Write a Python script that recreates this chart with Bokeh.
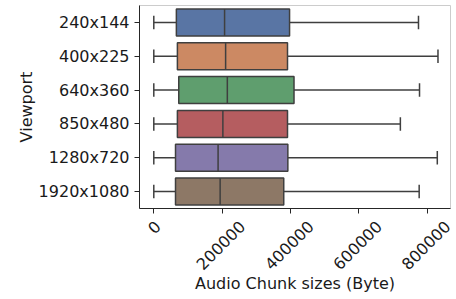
import math
from bokeh.plotting import figure
from bokeh.models import Range1d, FixedTicker, LinearAxis
from bokeh.embed import file_html
from bokeh.resources import INLINE

viewports = ["240x144", "400x225", "640x360", "850x480", "1280x720", "1920x1080"]
lower_whisker = [0, 0, 0, 0, 0, 0]
q1 = [66000, 69000, 73000, 69000, 63500, 63500]
median = [207000, 210000, 215000, 202000, 188000, 194000]
q3 = [397000, 391000, 410000, 391000, 392000, 380000]
upper_whisker = [774000, 831000, 777000, 721000, 829000, 776000]
colors = ["#5975a4", "#cc8963", "#5f9e6e", "#b55d60", "#857aab", "#8d7866"]
x_ticks = [0, 200000, 400000, 600000, 800000]
x_tick_labels = ["0", "200000", "400000", "600000", "800000"]

ypos = list(range(len(viewports)))
line_col = "#3f3f3f"
font = "DejaVu Sans"
txt_col = "#1a1a1a"

x0, x1 = -41800, 867600
frame_w = 311
p = figure(frame_width=frame_w, frame_height=203, output_backend="svg", toolbar_location=None,
           x_range=Range1d(x0, x1), y_range=Range1d(5.5, -0.5),
           min_border_left=139, min_border_right=5, min_border_top=5, min_border_bottom=0)
p.xgrid.visible = False
p.ygrid.visible = False
p.outline_line_color = "#cccccc"
p.outline_line_width = 1

box_h = 0.8
cap_h = 0.4

# whiskers
p.segment(x0=lower_whisker, x1=q1, y0=ypos, y1=ypos, line_color=line_col, line_width=1.5)
p.segment(x0=q3, x1=upper_whisker, y0=ypos, y1=ypos, line_color=line_col, line_width=1.5)
# caps
p.segment(x0=lower_whisker, x1=lower_whisker, y0=[y - cap_h / 2 for y in ypos],
          y1=[y + cap_h / 2 for y in ypos], line_color=line_col, line_width=1.5)
p.segment(x0=upper_whisker, x1=upper_whisker, y0=[y - cap_h / 2 for y in ypos],
          y1=[y + cap_h / 2 for y in ypos], line_color=line_col, line_width=1.5)
# boxes
p.hbar(y=ypos, left=q1, right=q3, height=box_h, fill_color=colors,
       line_color=line_col, line_width=1.5)
# medians
p.segment(x0=median, x1=median, y0=[y - box_h / 2 for y in ypos],
          y1=[y + box_h / 2 for y in ypos], line_color=line_col, line_width=1.5)

p.yaxis.ticker = FixedTicker(ticks=ypos)
p.yaxis.major_label_overrides = {i: v for i, v in enumerate(viewports)}
p.yaxis.axis_label = "Viewport"
p.yaxis.axis_label_standoff = 0

# main x axis: tick marks only
p.xaxis.ticker = FixedTicker(ticks=x_ticks)
p.xaxis.major_label_overrides = {t: "" for t in x_ticks}
p.xaxis.major_label_standoff = 0

for ax in (p.xaxis[0], p.yaxis[0]):
    ax.major_label_text_font = font
    ax.major_label_text_font_size = "16px"
    ax.major_label_text_color = txt_col
    ax.axis_label_text_font = font
    ax.axis_label_text_font_size = "16px"
    ax.axis_label_text_font_style = "normal"
    ax.axis_label_text_color = txt_col
    ax.axis_line_color = "#262626"
    ax.major_tick_line_color = "#262626"
    ax.major_tick_out = 5
    ax.major_tick_in = 0
    ax.minor_tick_line_color = None

# label axis: same scale shifted a few pixels so rotated labels sit centred on ticks
px = (x1 - x0) / frame_w
shift_long = 20 * px
shift_short = 4 * px
p.extra_x_ranges = {"lbl": Range1d(x0 - shift_long, x1 - shift_long)}
lbl_pos = [t if len(s) > 1 else t - (shift_long - shift_short) for t, s in zip(x_ticks, x_tick_labels)]
lab_axis = LinearAxis(x_range_name="lbl", ticker=FixedTicker(ticks=lbl_pos),
                      major_label_overrides={v: s for v, s in zip(lbl_pos, x_tick_labels)},
                      major_label_orientation=math.pi / 4,
                      axis_label="Audio Chunk sizes (Byte)")
lab_axis.axis_line_color = None
lab_axis.major_tick_line_color = None
lab_axis.minor_tick_line_color = None
lab_axis.major_tick_out = 0
lab_axis.major_tick_in = 0
lab_axis.major_label_standoff = 10
lab_axis.major_label_text_font = font
lab_axis.major_label_text_font_size = "16px"
lab_axis.major_label_text_color = txt_col
lab_axis.axis_label_text_font = font
lab_axis.axis_label_text_font_size = "16px"
lab_axis.axis_label_text_font_style = "normal"
lab_axis.axis_label_text_color = txt_col
lab_axis.axis_label_standoff = -4
p.add_layout(lab_axis, "below")

open("out.html", "w").write(file_html(p, INLINE))
